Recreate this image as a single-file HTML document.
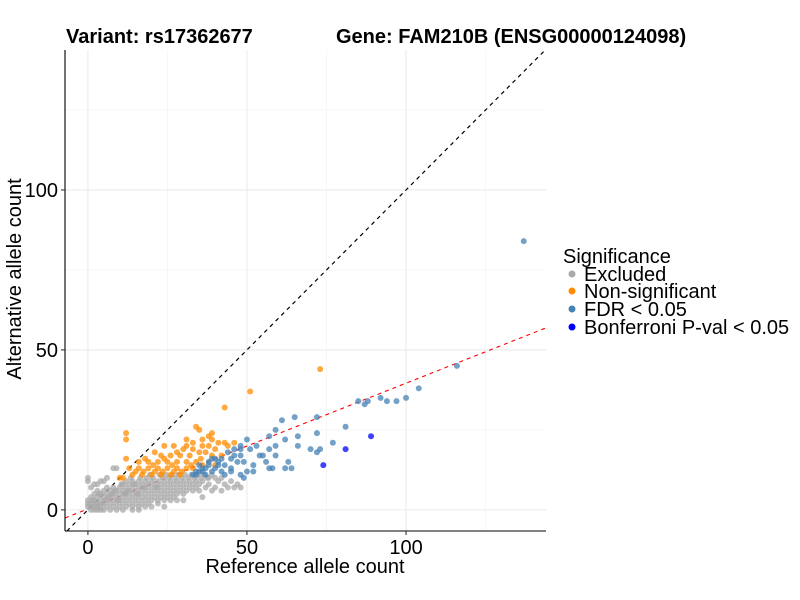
<!DOCTYPE html>
<html><head><meta charset="utf-8">
<style>
body{margin:0;background:#fff;}
svg{display:block;font-family:"Liberation Sans",Arial,sans-serif;}
</style></head>
<body>
<svg id="chart" width="800" height="600" xmlns="http://www.w3.org/2000/svg">
<rect width="800" height="600" fill="#fff"/>
<text x="66" y="43" font-size="20" font-weight="bold">Variant: rs17362677</text>
<text x="336" y="43" font-size="20" font-weight="bold">Gene: FAM210B (ENSG00000124098)</text>
<g id="grid"></g>
<g id="lines"></g>
<g id="points"></g>
<g id="axes"></g>
<text x="305" y="573" font-size="20" text-anchor="middle">Reference allele count</text>
<text transform="translate(21,279) rotate(-90)" font-size="20" text-anchor="middle">Alternative allele count</text>
<g>
<text x="563" y="263" font-size="20">Significance</text>
<g><circle cx="572" cy="274" r="3.5" fill="#aaaaaa"/><text x="584" y="281" font-size="20">Excluded</text></g>
<g><circle cx="572" cy="291" r="3.5" fill="#ff8c00"/><text x="584" y="298" font-size="20">Non-significant</text></g>
<g><circle cx="572" cy="309" r="3.5" fill="#4682b4"/><text x="584" y="316" font-size="20">FDR &lt; 0.05</text></g>
<g><circle cx="572" cy="327" r="3.5" fill="#0000ff"/><text x="584" y="334" font-size="20">Bonferroni P-val &lt; 0.05</text></g>
</g>
</svg>
<script>
const xTicks=[0,50,100];
const yTicks=[0,50,100];
const minorTicks=[25,75,125];
const excluded=[[0,1],[0,2],[0,3],[1,0],[1,1],[1,2],[1,4],[2,0],[2,1],[2,3],[2,5],[3,0],[3,1],[3,2],[3,4],[3,6],[4,0],[4,1],[4,3],[4,5],[5,0],[5,2],[5,4],[5,6],[6,1],[6,3],[6,5],[6,7],[7,0],[7,2],[7,4],[7,6],[8,1],[8,3],[8,5],[8,7],[9,0],[9,2],[9,4],[9,6],[10,1],[10,3],[10,5],[10,7],[11,0],[11,2],[11,4],[11,6],[11,8],[12,1],[12,3],[12,5],[12,7],[12,9],[13,2],[13,4],[13,6],[13,8],[14,1],[14,3],[14,5],[14,7],[14,9],[15,2],[15,4],[15,6],[15,8],[16,1],[16,3],[16,5],[16,7],[16,9],[17,2],[17,4],[17,6],[17,8],[18,3],[18,5],[18,7],[18,9],[19,2],[19,4],[19,6],[19,8],[20,3],[20,5],[20,7],[20,9],[21,4],[21,6],[21,8],[22,3],[22,5],[22,7],[22,9],[23,4],[23,6],[23,8],[24,3],[24,5],[24,7],[24,9],[25,4],[25,6],[25,8],[26,5],[26,7],[26,9],[27,4],[27,6],[27,8],[28,5],[28,7],[28,9],[29,6],[29,8],[30,5],[30,7],[30,9],[31,6],[31,8],[32,7],[32,9],[33,6],[33,8],[34,7],[34,9],[35,6],[35,8],[36,9],[37,7],[38,8],[38,10],[40,7],[41,9],[44,7],[46,7],[48,7],[0,9],[0,10],[8,13],[9,13],[36,4],[22,2],[26,3],[30,3],
[1.5,3],[2.5,2],[3.5,5],[4.5,2],[5.5,3],[6.5,4],[7.5,5],[8.5,6],[9.5,3],[10.5,8],[11.5,5],[12.5,6],[13.5,10],[14.5,8],[15.5,5],[16.5,10],[17.5,7],[18.5,10],[19.5,11],[20.5,10],[21.5,7],[22.5,11],[23.5,10],[24.5,11],[25.5,10],[26.5,11],[27.5,10],[28.5,11],[29.5,10],[30.5,11],[31.5,10],[32.5,11],[33.5,10],[34.5,11],[35.5,10],[36.5,11],[37.5,10],[39,11],[40,10],[42,10],[43,8],[45,9],[47,8],[39,6],[42,6],[20,1],[24,1],[28,3],[18,1],[14,0],[16,0],[1,7],[2,8],[3,8],[4,9],[5,9],[6,10]];
const nonSig=[[73,44],[51,37],[43,32],[34,26],[35,25],[39,24],[38,23],[36,22],[39,22],[43,21],[46,21],[31,22],[24,20],[31,20],[38,20],[28,18],[33,19],[35,18],[37,18],[40,19],[23,17],[26,17],[29,17],[32,17],[12,16],[16,15],[19,15],[22,15],[25,15],[28,15],[31,15],[34,15],[13,13],[16,13],[19,13],[22,13],[25,13],[28,13],[31,13],[14,11],[17,11],[20,11],[23,11],[26,11],[29,11],[10,10],[11,10],[12,24],[12,22],
[17.5,12],[20.5,14],[23.5,12],[26.5,14],[29.5,12],[32.5,14],[35.5,16],[18,16],[21,18],[27,20],[30,19],[33,21],[36,20],[41,21],[44,20],[42,17],[24,16],[15,12],[21,12],[27,12],[33,13],[36,14],[39,17],[40,14]];
const fdr=[[137,84],[116,45],[104,38],[100,35],[97,34],[94,34],[87,33],[61,28],[65,29],[72,29],[85,34],[88,34],[92,35],[81,26],[72,24],[66,23],[62,22],[59,25],[57,23],[50,22],[77,21],[73,19],[70,19],[72,18],[66,20],[59,20],[59,17],[57,19],[55,17],[54,17],[56,15],[57,13],[58,13],[63,15],[62,13],[64,13],[52,14],[50,12],[52,12],[48,11],[49,10],[43,11],[45,13],[45,12],[48,19],[51,19],[53,20],[48,20],[46,19],[44,18],[46,17],[48,17],[47,15],[49,15],[45,16],[42,16],[40,16],[41,14],[39,12],[37,13],[35,12],[33,11],[35,14],[38,14],[39,16],[34,12],[36,13],[38,15],[40,13],[37,11],[36,12],[41,15],[43,14],[42,12],[34,11]];
const bonf=[[74,14],[81,19],[89,23]];
const slope=0.393, intercept=0.3;

const NS='http://www.w3.org/2000/svg';
const X0=65,X1=546,Y0=50,Y1=531;
const xmin=-7.2,xmax=144,ymin=-6.6,ymax=143.75;
function sx(v){return X0+(v-xmin)/(xmax-xmin)*(X1-X0);}
function sy(v){return Y1-(v-ymin)/(ymax-ymin)*(Y1-Y0);}
function mk(tag,attrs,parent){const e=document.createElementNS(NS,tag);for(const k in attrs)e.setAttribute(k,attrs[k]);parent.appendChild(e);return e;}
const grid=document.getElementById('grid');
minorTicks.forEach(v=>{
 const a=mk('line',{x1:sx(v),x2:sx(v),y1:Y0,y2:Y1,stroke:'#f2f2f2','stroke-width':0.6},grid);
 
 
 const b=mk('line',{x1:X0,x2:X1,y1:sy(v),y2:sy(v),stroke:'#f2f2f2','stroke-width':0.6},grid);
 
 
});
xTicks.forEach(v=>{
 const a=mk('line',{x1:sx(v),x2:sx(v),y1:Y0,y2:Y1,stroke:'#ebebeb','stroke-width':1.1},grid);
 
 
});
yTicks.forEach(v=>{
 const a=mk('line',{x1:X0,x2:X1,y1:sy(v),y2:sy(v),stroke:'#ebebeb','stroke-width':1.1},grid);
 
 
});
const lines=document.getElementById('lines');
const xa=Math.max(xmin,ymin), xb=Math.min(xmax,ymax);
const d1=mk('line',{x1:sx(xa),y1:sy(xa),x2:sx(xb),y2:sy(xb),stroke:'#000','stroke-width':1.2,'stroke-dasharray':'4,4'},lines);


const d2=mk('line',{x1:sx(xmin),y1:sy(intercept+slope*xmin),x2:sx(xmax),y2:sy(intercept+slope*xmax),stroke:'#ff0000','stroke-width':1.1,'stroke-dasharray':'4,4'},lines);


const pts=document.getElementById('points');
function drawSeries(arr,color,name){
 arr.forEach(p=>{
  const c=mk('circle',{cx:sx(p[0]),cy:sy(p[1]),r:3,fill:color,'fill-opacity':0.75},pts);
  
  
 });
}
drawSeries(excluded,'#aaaaaa','point-excluded');
drawSeries(nonSig,'#ff8c00','point-non-significant');
drawSeries(fdr,'#4682b4','point-fdr');
drawSeries(bonf,'#0000ff','point-bonferroni');
const axes=document.getElementById('axes');
const la=mk('line',{x1:X0,x2:X0,y1:Y0,y2:Y1,stroke:'#000','stroke-width':1.1},axes);


const ba=mk('line',{x1:X0,x2:X1,y1:Y1,y2:Y1,stroke:'#000','stroke-width':1.1},axes);


xTicks.forEach(v=>{
 const t=mk('line',{x1:sx(v),x2:sx(v),y1:Y1,y2:Y1+4,stroke:'#333','stroke-width':1.1},axes);
 
 
 const l=mk('text',{x:sx(v),y:Y1+23,'font-size':20,'text-anchor':'middle',fill:'#000'},axes);
 l.textContent=v;
 
 
});
yTicks.forEach(v=>{
 const t=mk('line',{x1:X0-4,x2:X0,y1:sy(v),y2:sy(v),stroke:'#333','stroke-width':1.1},axes);
 
 
 const l=mk('text',{x:X0-7,y:sy(v)+7,'font-size':20,'text-anchor':'end',fill:'#000'},axes);
 l.textContent=v;
 
 
});
</script>
</body></html>
